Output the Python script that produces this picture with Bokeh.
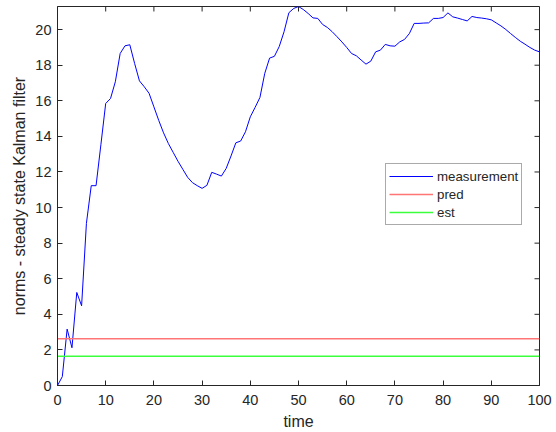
from bokeh.plotting import figure
from bokeh.models import Range1d, Legend, LegendItem, FixedTicker
from bokeh.embed import file_html
from bokeh.resources import INLINE

time = list(range(0, 101))
measurement = [
    0.0, 0.5, 3.17, 2.12, 5.23, 4.48, 9.11, 11.23, 11.23, 13.53,
    15.85, 16.13, 17.07, 18.66, 19.09, 19.15, 18.1, 17.12, 16.79, 16.42,
    15.66, 14.9, 14.2, 13.6, 13.1, 12.6, 12.15, 11.7, 11.4, 11.23,
    11.08, 11.25, 11.98, 11.88, 11.77, 12.2, 12.9, 13.64, 13.74, 14.26,
    15.1, 15.63, 16.19, 17.54, 18.4, 18.5, 19.05, 19.88, 20.95, 21.19,
    21.3, 21.13, 20.91, 20.66, 20.63, 20.29, 20.12, 19.88, 19.6, 19.31,
    19.0, 18.66, 18.53, 18.29, 18.06, 18.23, 18.75, 18.85, 19.17, 19.09,
    19.07, 19.31, 19.45, 19.78, 20.35, 20.35, 20.37, 20.38, 20.63, 20.63,
    20.68, 20.94, 20.72, 20.65, 20.57, 20.49, 20.74, 20.68, 20.65, 20.61,
    20.55, 20.38, 20.21, 20.01, 19.78, 19.56, 19.35, 19.18, 19.0, 18.85,
    18.75,
]
pred_value = 2.63
est_value = 1.64
x_ticks = [0, 10, 20, 30, 40, 50, 60, 70, 80, 90, 100]
y_ticks = [0, 2, 4, 6, 8, 10, 12, 14, 16, 18, 20]
x_label = "time"
y_label = "norms - steady state Kalman filter"

FONT = "Liberation Sans"
TXT = "#262626"

W, H = 556, 432
ML, MR, MT, MB = 57, 17, 6, 46
x0, x1 = 0, 100
y0, y1 = 0, max(measurement)

p = figure(width=W, height=H, output_backend="svg", toolbar_location=None,
           x_range=Range1d(x0, x1), y_range=Range1d(y0, y1),
           min_border_left=ML, min_border_right=MR, min_border_top=MT,
           min_border_bottom=MB, x_axis_label=x_label, y_axis_label=y_label)
p.background_fill_color = "white"
p.border_fill_color = "white"
p.outline_line_color = TXT
p.outline_line_width = 1
p.grid.visible = False

for ax in p.xaxis + p.yaxis:
    ax.major_tick_in = 5
    ax.major_tick_out = 0
    ax.minor_tick_in = 0
    ax.minor_tick_out = 0
    ax.axis_line_color = TXT
    ax.major_tick_line_color = TXT
    ax.major_label_text_font = FONT
    ax.major_label_text_font_size = "14.5px"
    ax.major_label_text_color = TXT
    ax.axis_label_text_font = FONT
    ax.axis_label_text_font_size = "16px"
    ax.axis_label_text_font_style = "normal"
    ax.axis_label_text_color = TXT
p.xaxis.ticker = FixedTicker(ticks=x_ticks)
p.yaxis.ticker = FixedTicker(ticks=y_ticks)
p.xaxis.major_label_standoff = 9
p.xaxis.axis_label_standoff = 5
p.yaxis.major_label_standoff = 6
p.yaxis.axis_label_standoff = 4

# mirrored inward ticks on the top and right edges (box on)
fw = W - ML - MR
fh = H - MT - MB
tick_len_y = 5 * (y1 - y0) / fh
tick_len_x = 5 * (x1 - x0) / fw
p.segment(x0=x_ticks, y0=[y1] * len(x_ticks), x1=x_ticks, y1=[y1 - tick_len_y] * len(x_ticks),
          line_color=TXT, line_width=1)
p.segment(x0=[x1] * len(y_ticks), y0=y_ticks, x1=[x1 - tick_len_x] * len(y_ticks), y1=y_ticks,
          line_color=TXT, line_width=1)

r_meas = p.line(time, measurement, line_color="#0000ff", line_width=1)
r_pred = p.line([time[0], time[-1]], [pred_value, pred_value], line_color="#ff7575", line_width=1.6)
r_est = p.line([time[0], time[-1]], [est_value, est_value], line_color="#3cff3c", line_width=1.6)

legend = Legend(items=[LegendItem(label="measurement", renderers=[r_meas]),
                       LegendItem(label="pred", renderers=[r_pred]),
                       LegendItem(label="est", renderers=[r_est])],
                location=(328, 160))
legend.label_text_font = FONT
legend.label_text_font_size = "13.3px"
legend.label_text_color = TXT
legend.glyph_width = 44
legend.glyph_height = 18
legend.label_height = 18
legend.label_standoff = 4
legend.spacing = 0
legend.padding = 3
legend.margin = 0
legend.border_line_color = "#555555"
legend.border_line_width = 1
legend.background_fill_color = "white"
legend.background_fill_alpha = 1
p.add_layout(legend, "center")

open("out.html", "w").write(file_html(p, INLINE))
